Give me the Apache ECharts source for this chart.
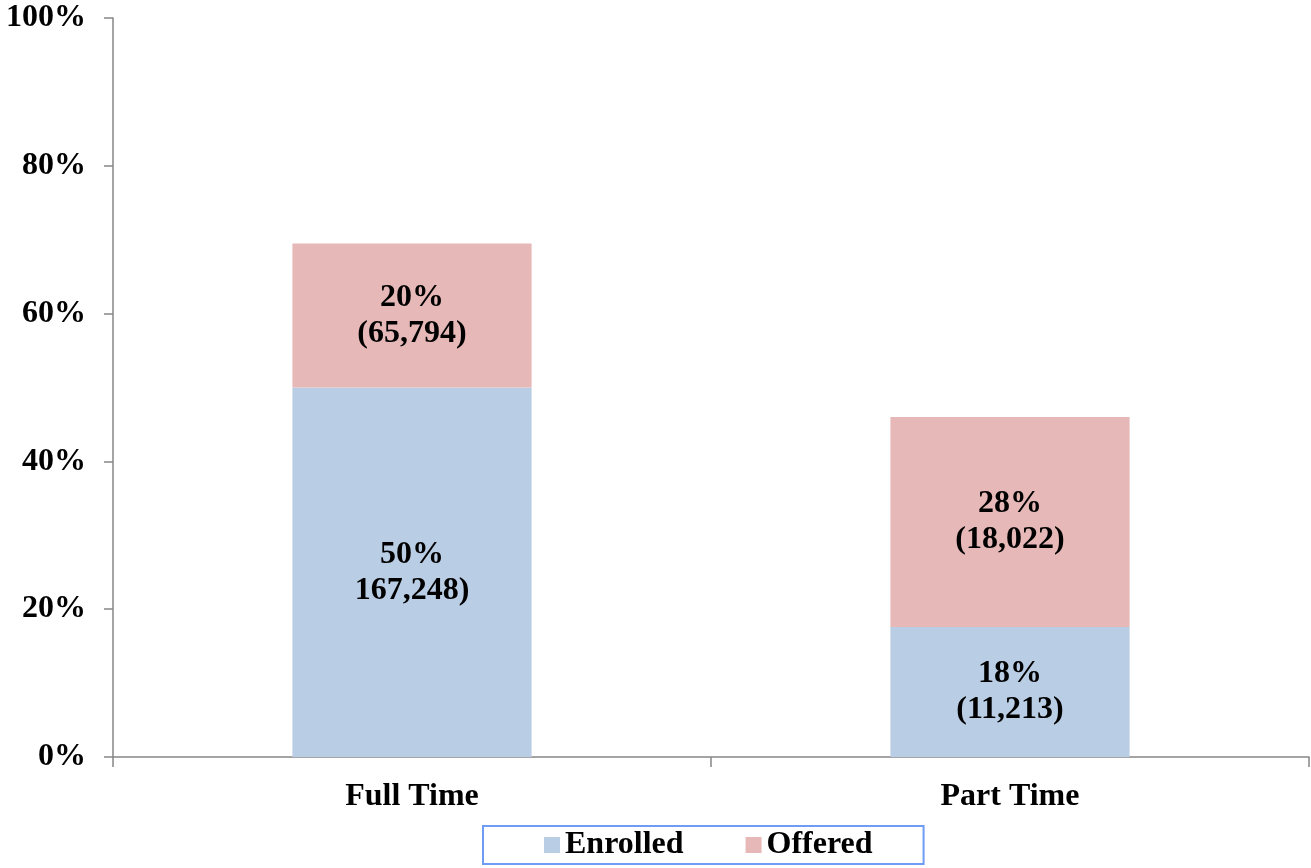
<!DOCTYPE html>
<html>
<head>
<meta charset="utf-8">
<script src="https://cdn.jsdelivr.net/npm/echarts@6/dist/echarts.min.js"></script>
<style>
  html, body { margin: 0; padding: 0; background: #ffffff; }
  #chart { width: 1311px; height: 868px; }
</style>
</head>
<body>
<div id="chart"></div>
<script>
// Share of applicants, by attendance status
const categories = ['Full Time', 'Part Time'];
const enrolledPct = [50.0, 17.6];
const offeredPct = [19.5, 28.4];
const enrolledCounts = ['167,248)', '(11,213)'];
const offeredCounts = ['(65,794)', '(18,022)'];
const yTicks = [0, 20, 40, 60, 80, 100];

const FONT = '"Liberation Serif", "Times New Roman", serif';
const FONT_SIZE = 32;
const AXIS_COLOR = '#868686';

function segmentLabel(counts) {
  return function (p) {
    return Math.round(p.value) + '%\n' + counts[p.dataIndex];
  };
}

const chart = echarts.init(document.getElementById('chart'), null, { renderer: 'canvas' });

chart.setOption({
  animation: false,
  backgroundColor: '#ffffff',
  grid: { left: 113, right: 2, top: 18, bottom: 111, containLabel: false },
  legend: {
    bottom: 4,
    left: 483,
    itemWidth: 16,
    itemHeight: 16,
    itemGap: 62,
    padding: [3, 51, 3, 61],
    borderColor: '#6e9cf5',
    borderWidth: 2,
    icon: 'rect',
    textStyle: { fontFamily: FONT, fontWeight: 'bold', fontSize: FONT_SIZE, color: '#000' },
    data: ['Enrolled', 'Offered']
  },
  xAxis: {
    type: 'category',
    data: categories,
    boundaryGap: true,
    axisLine: { lineStyle: { color: AXIS_COLOR, width: 1.5 } },
    axisTick: { show: true, alignWithLabel: false, length: 10, inside: false, lineStyle: { color: AXIS_COLOR, width: 1.5 } },
    axisLabel: { margin: 24, fontFamily: FONT, fontWeight: 'bold', fontSize: FONT_SIZE, color: '#000' }
  },
  yAxis: {
    type: 'value',
    min: yTicks[0],
    max: yTicks[yTicks.length - 1],
    interval: yTicks[1] - yTicks[0],
    splitLine: { show: false },
    axisLine: { show: true, lineStyle: { color: AXIS_COLOR, width: 1.5 } },
    axisTick: { show: true, length: 9, lineStyle: { color: AXIS_COLOR, width: 1.5 } },
    axisLabel: {
      margin: 27,
      fontFamily: FONT, fontWeight: 'bold', fontSize: FONT_SIZE, color: '#000',
      formatter: function (v) { return v + '%'; }
    }
  },
  series: [
    {
      name: 'Enrolled',
      type: 'bar',
      stack: 'total',
      data: enrolledPct,
      barWidth: '40%',
      itemStyle: { color: '#b9cde5' },
      label: {
        show: true, position: 'inside',
        fontFamily: FONT, fontWeight: 'bold', fontSize: FONT_SIZE, color: '#000', lineHeight: 36,
        formatter: segmentLabel(enrolledCounts)
      }
    },
    {
      name: 'Offered',
      type: 'bar',
      stack: 'total',
      data: offeredPct,
      barWidth: '40%',
      itemStyle: { color: '#e6b9b8' },
      label: {
        show: true, position: 'inside',
        fontFamily: FONT, fontWeight: 'bold', fontSize: FONT_SIZE, color: '#000', lineHeight: 36,
        formatter: segmentLabel(offeredCounts)
      }
    }
  ]
});
</script>
</body>
</html>
